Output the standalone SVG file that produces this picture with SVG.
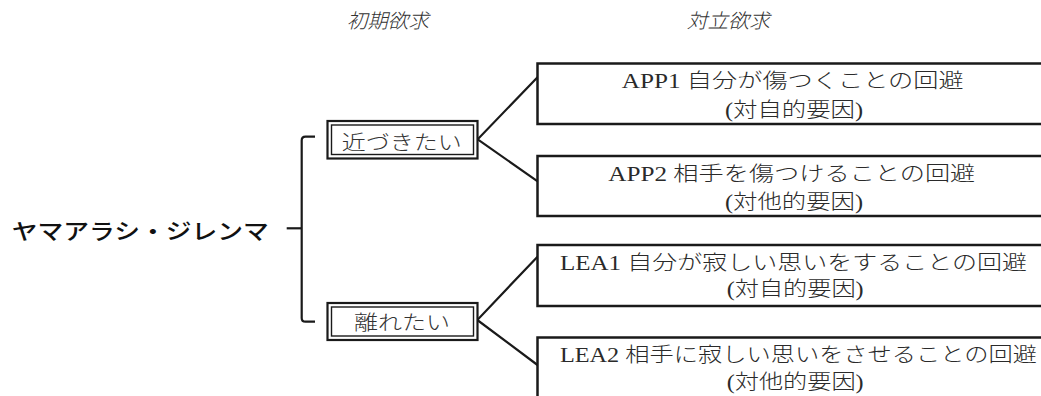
<svg xmlns="http://www.w3.org/2000/svg" width="1041" height="396" viewBox="0 0 1041 396">
<style>
text{font-family:"Liberation Serif","Noto Sans CJK JP",serif;fill:#222;}
.hdr{font-size:20px;font-style:italic;font-weight:300;fill:#333;}
.title{font-size:22px;font-weight:500;fill:#111;}
.lbl{font-size:20px;font-weight:300;fill:#333;}
.desc{font-size:20px;font-weight:300;fill:#2a2a2a;}
.box{fill:#fff;stroke:#1a1a1a;stroke-width:2.5;}
.outer{fill:#fff;stroke:#1a1a1a;stroke-width:2.2;}
.inner{fill:none;stroke:#1a1a1a;stroke-width:1.4;}
.conn{fill:none;stroke:#1a1a1a;stroke-width:2.2;}
</style>
<rect width="1041" height="396" fill="#fff"/>
<g id="headers">
<text class="hdr" x="346.7" y="28" textLength="82" lengthAdjust="spacingAndGlyphs">初期欲求</text>
<text class="hdr" x="686.7" y="28" textLength="83" lengthAdjust="spacingAndGlyphs">対立欲求</text>
</g>
<g id="connectors">
<path class="conn" d="M315,136.7 L305.5,136.7 Q301.7,136.7 301.7,140.5 L301.7,317.9 Q301.7,321.7 305.5,321.7 L315,321.7"/>
<path class="conn" d="M286.7,228.3 L301.7,228.3" stroke-width="2.8"/>
<path class="conn" d="M538,76.7 L477.7,139.3 L538,181.7"/>
<path class="conn" d="M537.5,256.7 L477.3,320 L537.5,365"/>
</g>
<g id="root">
<text class="title" x="11.7" y="239" textLength="257" lengthAdjust="spacingAndGlyphs">ヤマアラシ・ジレンマ</text>
</g>
<g id="approach">
<rect class="outer" x="327.5" y="121" width="150" height="37.5"/>
<rect class="inner" x="331.5" y="125" width="142" height="29.5"/>
<text class="lbl" x="341.7" y="150" textLength="120" lengthAdjust="spacingAndGlyphs">近づきたい</text>
</g>
<g id="leave">
<rect class="outer" x="327.5" y="303" width="150" height="37"/>
<rect class="inner" x="331.5" y="307" width="142" height="29"/>
<text class="lbl" x="354" y="330" textLength="96" lengthAdjust="spacingAndGlyphs">離れたい</text>
</g>
<g id="app1">
<rect class="box" x="537.5" y="63.5" width="520" height="60.5"/>
<text class="desc" x="621.7" y="88" textLength="342" lengthAdjust="spacingAndGlyphs">APP1 自分が傷つくことの回避</text>
<text class="desc" x="725" y="117" textLength="138" lengthAdjust="spacingAndGlyphs">(対自的要因)</text>
</g>
<g id="app2">
<rect class="box" x="537.5" y="156" width="520" height="60"/>
<text class="desc" x="608.3" y="181" textLength="367" lengthAdjust="spacingAndGlyphs">APP2 相手を傷つけることの回避</text>
<text class="desc" x="725" y="209" textLength="138" lengthAdjust="spacingAndGlyphs">(対他的要因)</text>
</g>
<g id="lea1">
<rect class="box" x="537.5" y="245" width="520" height="61"/>
<text class="desc" x="560" y="270" textLength="467" lengthAdjust="spacingAndGlyphs">LEA1 自分が寂しい思いをすることの回避</text>
<text class="desc" x="726.7" y="296" textLength="137" lengthAdjust="spacingAndGlyphs">(対自的要因)</text>
</g>
<g id="lea2">
<rect class="box" x="537.5" y="337.5" width="520" height="80"/>
<text class="desc" x="560" y="362" textLength="477" lengthAdjust="spacingAndGlyphs">LEA2 相手に寂しい思いをさせることの回避</text>
<text class="desc" x="726.7" y="389" textLength="137" lengthAdjust="spacingAndGlyphs">(対他的要因)</text>
</g>
</svg>
